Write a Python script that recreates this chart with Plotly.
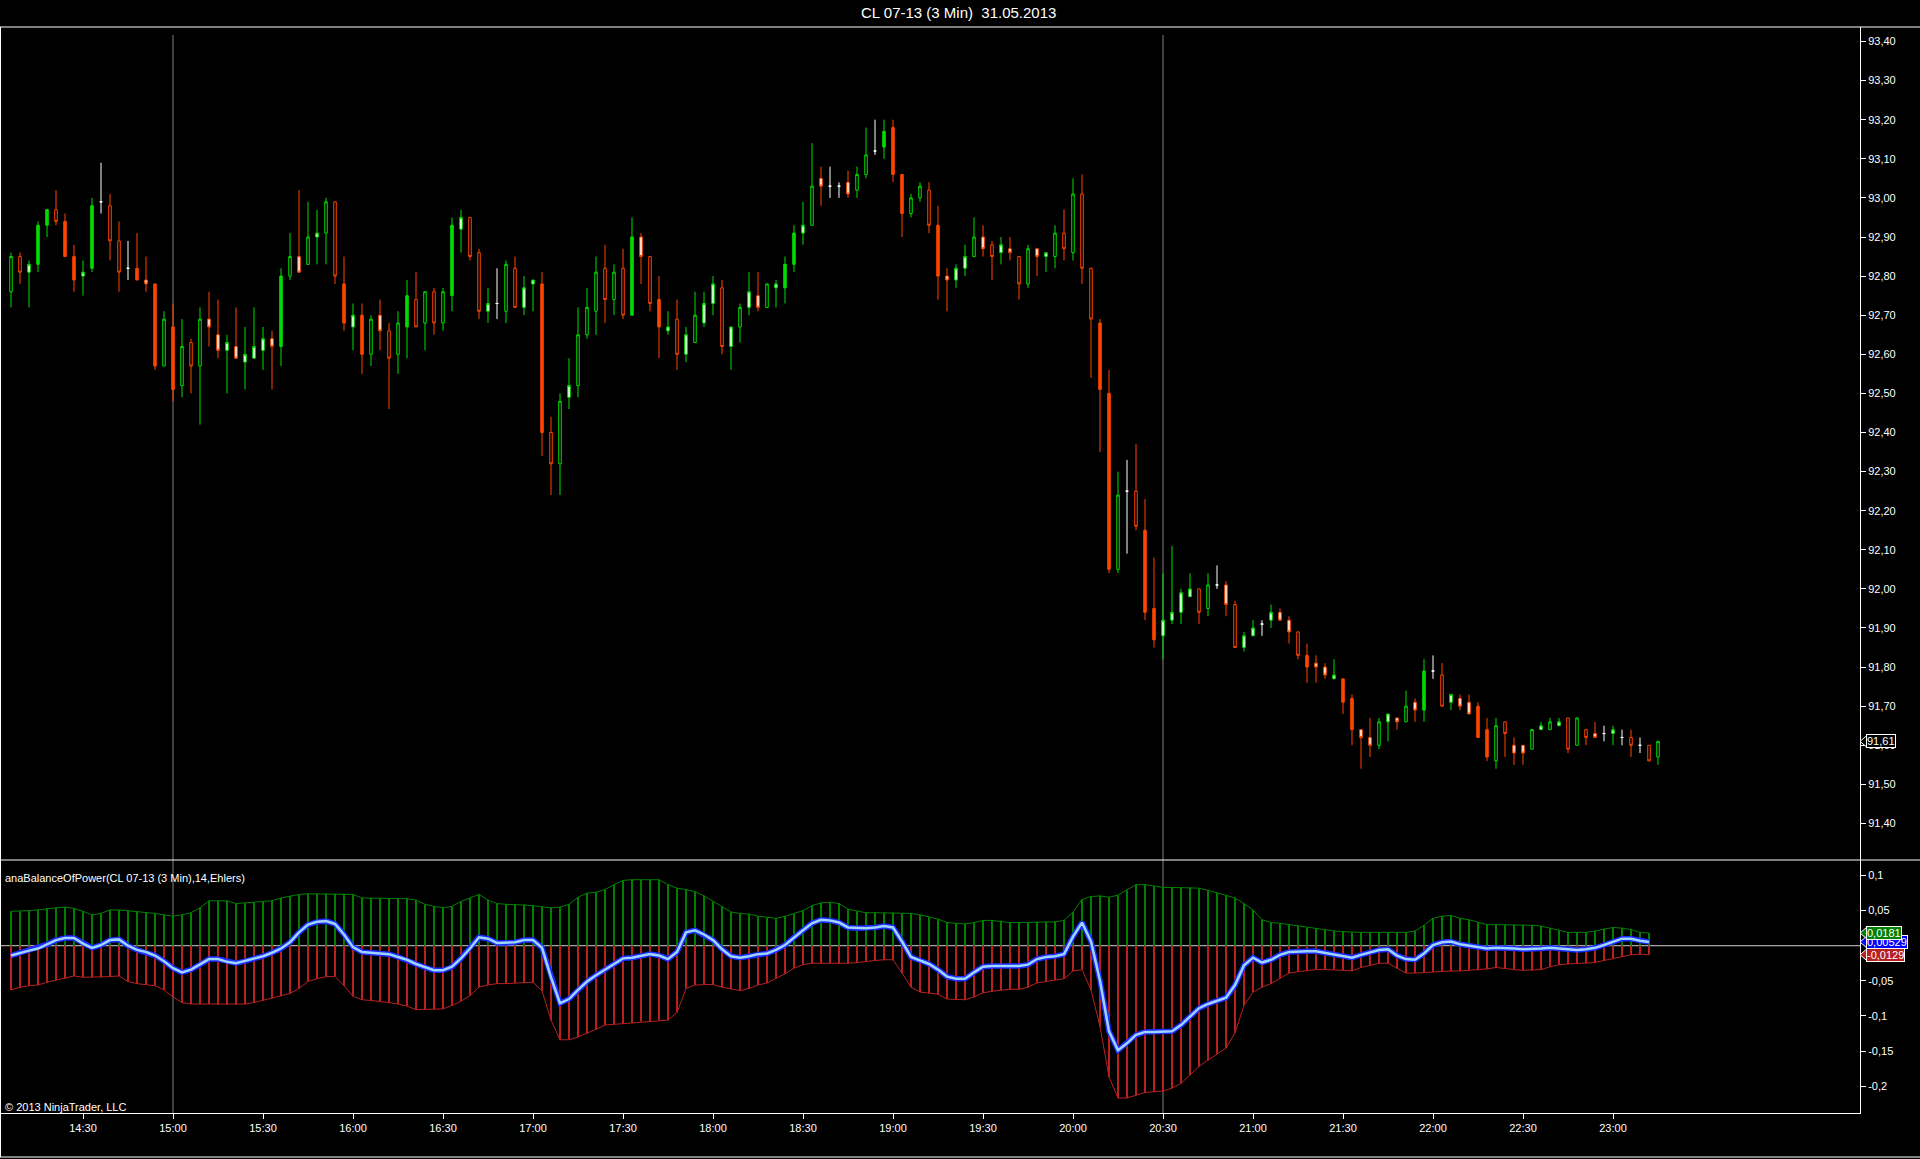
import pandas as pd
import plotly.graph_objects as go

W, H = 1920, 1159
FONT = "Liberation Sans, Arial, sans-serif"

GREEN = "#00dd00"      # up candles
ORANGE = "#ff4500"     # down candles
BAND_UP = "#008000"
BAND_DN = "#b82020"

# === CL 07-13, 3 minute bars, 31.05.2013 (first bar 14:06) ===
first_bar = "2013-05-31 14:06"

opens = [
    92.76, 92.85, 92.81, 92.83, 92.93, 92.97, 92.94, 92.85,
    92.80, 92.82, 92.99, 92.98, 92.89, 92.82, 92.82, 92.79, 92.78, 92.57,
    92.67, 92.52, 92.63, 92.57, 92.69, 92.65, 92.61, 92.62, 92.58, 92.59,
    92.61, 92.64, 92.62, 92.80, 92.85, 92.83, 92.90, 92.91, 92.99, 92.78,
    92.67, 92.70, 92.60, 92.70, 92.66, 92.60, 92.67, 92.74, 92.68, 92.76,
    92.68, 92.75, 92.92, 92.95, 92.86, 92.71, 92.73, 92.71, 92.82, 92.72,
    92.78, 92.78, 92.40, 92.32, 92.49, 92.52, 92.65, 92.71, 92.82, 92.74,
    92.82, 92.70, 92.90, 92.85, 92.74, 92.66, 92.69, 92.60, 92.63, 92.68,
    92.73, 92.77, 92.62, 92.67, 92.72, 92.75, 92.72, 92.77, 92.77, 92.83,
    92.91, 92.93, 93.05, 93.03, 93.03, 93.04, 93.02, 93.06, 93.12, 93.13,
    93.18, 93.06, 92.96, 93.00, 93.02, 92.93, 92.80, 92.79, 92.82, 92.85,
    92.90, 92.88, 92.86, 92.87, 92.85, 92.78, 92.87, 92.85, 92.85, 92.91,
    92.86, 93.01, 92.82, 92.68, 92.50, 92.05, 92.25, 92.25, 92.15, 91.95,
    91.88, 91.92, 91.94, 91.98, 92.00, 91.95, 92.01, 92.01, 91.96, 91.85,
    91.88, 91.91, 91.92, 91.94, 91.92, 91.89, 91.83, 91.81, 91.80, 91.77,
    91.77, 91.72, 91.64, 91.62, 91.60, 91.66, 91.67, 91.66, 91.71, 91.69,
    91.79, 91.78, 91.71, 91.72, 91.71, 91.70, 91.64, 91.56, 91.66, 91.60,
    91.60, 91.59, 91.64, 91.64, 91.65, 91.67, 91.60, 91.64, 91.63, 91.63,
    91.63, 91.62, 91.62, 91.60, 91.60, 91.57,
]
highs = [
    92.86, 92.86, 92.84, 92.94, 92.97, 93.02, 92.96, 92.88,
    92.84, 93.00, 93.09, 93.01, 92.94, 92.89, 92.91, 92.85, 92.78, 92.71,
    92.73, 92.69, 92.64, 92.72, 92.76, 92.74, 92.65, 92.72, 92.67, 92.72,
    92.67, 92.66, 92.82, 92.91, 93.02, 92.99, 92.97, 93.00, 92.99, 92.85,
    92.73, 92.73, 92.70, 92.74, 92.68, 92.71, 92.79, 92.81, 92.76, 92.77,
    92.77, 92.95, 92.97, 92.95, 92.87, 92.77, 92.82, 92.84, 92.85, 92.80,
    92.79, 92.81, 92.44, 92.50, 92.59, 92.72, 92.77, 92.85, 92.88, 92.83,
    92.87, 92.95, 92.91, 92.85, 92.80, 92.71, 92.74, 92.67, 92.76, 92.76,
    92.80, 92.79, 92.67, 92.73, 92.81, 92.81, 92.78, 92.79, 92.85, 92.93,
    92.99, 93.14, 93.08, 93.08, 93.04, 93.07, 93.08, 93.18, 93.20, 93.20,
    93.20, 93.06, 93.01, 93.04, 93.04, 92.98, 92.82, 92.83, 92.88, 92.95,
    92.93, 92.89, 92.90, 92.90, 92.85, 92.88, 92.87, 92.86, 92.93, 92.97,
    93.05, 93.06, 92.82, 92.69, 92.56, 92.30, 92.33, 92.37, 92.23, 92.08,
    92.04, 92.11, 92.00, 92.04, 92.00, 92.04, 92.06, 92.02, 91.97, 91.89,
    91.92, 91.92, 91.96, 91.95, 91.93, 91.89, 91.86, 91.83, 91.81, 91.82,
    91.77, 91.73, 91.64, 91.67, 91.67, 91.68, 91.67, 91.74, 91.72, 91.82,
    91.83, 91.81, 91.73, 91.73, 91.73, 91.71, 91.67, 91.67, 91.66, 91.62,
    91.60, 91.64, 91.66, 91.67, 91.67, 91.67, 91.67, 91.64, 91.66, 91.65,
    91.65, 91.64, 91.64, 91.62, 91.60, 91.61,
]
lows = [
    92.72, 92.78, 92.72, 92.81, 92.90, 92.93, 92.85, 92.76,
    92.75, 92.81, 92.96, 92.84, 92.76, 92.79, 92.79, 92.76, 92.56, 92.57,
    92.48, 92.49, 92.50, 92.42, 92.62, 92.59, 92.50, 92.59, 92.51, 92.59,
    92.56, 92.51, 92.57, 92.79, 92.81, 92.83, 92.83, 92.83, 92.78, 92.66,
    92.61, 92.55, 92.57, 92.61, 92.46, 92.55, 92.59, 92.67, 92.61, 92.65,
    92.66, 92.71, 92.86, 92.84, 92.69, 92.68, 92.69, 92.68, 92.72, 92.70,
    92.71, 92.34, 92.24, 92.24, 92.46, 92.49, 92.64, 92.65, 92.68, 92.70,
    92.69, 92.70, 92.78, 92.71, 92.59, 92.65, 92.56, 92.58, 92.63, 92.67,
    92.70, 92.60, 92.56, 92.63, 92.70, 92.71, 92.72, 92.72, 92.73, 92.81,
    92.88, 92.93, 92.98, 93.00, 93.00, 93.00, 93.00, 93.05, 93.11, 93.10,
    93.04, 92.90, 92.95, 92.99, 92.91, 92.74, 92.71, 92.77, 92.80, 92.85,
    92.85, 92.79, 92.83, 92.84, 92.74, 92.77, 92.80, 92.81, 92.82, 92.84,
    92.84, 92.78, 92.54, 92.35, 92.04, 92.04, 92.09, 92.15, 91.92, 91.85,
    91.82, 91.91, 91.91, 91.98, 91.91, 91.93, 92.00, 91.93, 91.85, 91.84,
    91.88, 91.88, 91.90, 91.92, 91.86, 91.82, 91.76, 91.76, 91.77, 91.77,
    91.68, 91.60, 91.54, 91.57, 91.59, 91.61, 91.64, 91.66, 91.66, 91.66,
    91.77, 91.70, 91.69, 91.69, 91.68, 91.62, 91.56, 91.54, 91.57, 91.55,
    91.55, 91.59, 91.64, 91.64, 91.65, 91.58, 91.60, 91.60, 91.62, 91.61,
    91.60, 91.60, 91.57, 91.58, 91.56, 91.55,
]
closes = [
    92.85, 92.81, 92.83, 92.93, 92.97, 92.94, 92.85, 92.79,
    92.81, 92.98, 92.99, 92.89, 92.81, 92.82, 92.79, 92.78, 92.57, 92.69,
    92.51, 92.62, 92.57, 92.69, 92.67, 92.61, 92.63, 92.59, 92.60, 92.62,
    92.64, 92.62, 92.80, 92.85, 92.81, 92.90, 92.91, 92.99, 92.80, 92.68,
    92.70, 92.60, 92.69, 92.66, 92.59, 92.68, 92.75, 92.67, 92.76, 92.68,
    92.76, 92.93, 92.95, 92.85, 92.71, 92.73, 92.73, 92.83, 92.72, 92.77,
    92.79, 92.40, 92.32, 92.48, 92.52, 92.65, 92.72, 92.81, 92.74, 92.81,
    92.70, 92.90, 92.85, 92.73, 92.67, 92.67, 92.60, 92.65, 92.70, 92.73,
    92.78, 92.62, 92.67, 92.72, 92.76, 92.72, 92.78, 92.78, 92.83, 92.91,
    92.93, 93.03, 93.03, 93.03, 93.03, 93.01, 93.06, 93.11, 93.12, 93.17,
    93.06, 92.96, 93.00, 93.03, 92.93, 92.80, 92.79, 92.82, 92.85, 92.90,
    92.87, 92.85, 92.88, 92.86, 92.78, 92.87, 92.85, 92.86, 92.91, 92.87,
    93.01, 92.82, 92.69, 92.51, 92.05, 92.24, 92.25, 92.16, 91.94, 91.87,
    91.92, 91.94, 91.99, 92.00, 91.94, 92.01, 92.01, 91.96, 91.85, 91.88,
    91.90, 91.91, 91.94, 91.92, 91.89, 91.83, 91.80, 91.80, 91.78, 91.78,
    91.71, 91.64, 91.62, 91.60, 91.66, 91.68, 91.66, 91.70, 91.69, 91.79,
    91.79, 91.70, 91.73, 91.70, 91.68, 91.62, 91.57, 91.65, 91.63, 91.58,
    91.58, 91.64, 91.65, 91.66, 91.66, 91.59, 91.67, 91.62, 91.62, 91.63,
    91.64, 91.62, 91.60, 91.60, 91.56, 91.61,
]
# body look of each candle as seen on the chart: F solid, H hollow, W light core, D doji
body_kind = """
H H W F F H F F
W F D H H D F W F H
F H H H W W W W W W
W W F H W H W H H F
W F H W H H F H H H
H F W H H W D H H W
W F H H W H H H H H
H F W H F W H W H W
W H W H W W H W F F
W H W D D W H H D F
F F H H H F W W W H
W H W W H H W W H H
H H H F F H D H F F
W W W W H H D W H W
W D W W W H F W W W
F F W W H W W H W F
D H W W W F F H H W
W H W H W H H H W D
W D H D H H
""".split()

# === anaBalanceOfPower(14, Ehlers): upper band, lower band, BOP line (last bar not closed) ===
bop_upper = [
    0.049, 0.049, 0.050, 0.051, 0.053, 0.054, 0.055, 0.053,
    0.049, 0.044, 0.046, 0.051, 0.051, 0.050, 0.049, 0.048, 0.046, 0.044,
    0.042, 0.044, 0.047, 0.054, 0.064, 0.064, 0.064, 0.060, 0.061, 0.062,
    0.063, 0.064, 0.068, 0.071, 0.073, 0.074, 0.074, 0.074, 0.074, 0.074,
    0.073, 0.068, 0.068, 0.068, 0.068, 0.068, 0.067, 0.065, 0.059, 0.056,
    0.054, 0.056, 0.063, 0.068, 0.073, 0.065, 0.060, 0.059, 0.059, 0.058,
    0.057, 0.055, 0.054, 0.055, 0.059, 0.069, 0.075, 0.076, 0.080, 0.087,
    0.093, 0.094, 0.094, 0.094, 0.094, 0.087, 0.082, 0.080, 0.077, 0.071,
    0.063, 0.056, 0.048, 0.046, 0.045, 0.042, 0.040, 0.039, 0.042, 0.046,
    0.050, 0.057, 0.061, 0.062, 0.060, 0.052, 0.049, 0.047, 0.047, 0.047,
    0.047, 0.046, 0.046, 0.044, 0.041, 0.038, 0.033, 0.032, 0.031, 0.033,
    0.036, 0.036, 0.034, 0.033, 0.033, 0.033, 0.034, 0.034, 0.034, 0.036,
    0.048, 0.066, 0.070, 0.071, 0.069, 0.072, 0.079, 0.087, 0.087, 0.085,
    0.083, 0.083, 0.083, 0.083, 0.082, 0.079, 0.075, 0.072, 0.068, 0.060,
    0.051, 0.037, 0.033, 0.032, 0.030, 0.028, 0.026, 0.025, 0.023, 0.021,
    0.020, 0.019, 0.019, 0.019, 0.019, 0.019, 0.019, 0.019, 0.021, 0.029,
    0.039, 0.042, 0.043, 0.039, 0.037, 0.033, 0.030, 0.030, 0.030, 0.030,
    0.030, 0.029, 0.028, 0.025, 0.022, 0.019, 0.019, 0.019, 0.021, 0.024,
    0.026, 0.025, 0.023, 0.019, 0.0181,
]
bop_lower = [
    -0.063, -0.059, -0.057, -0.056, -0.052, -0.049, -0.047, -0.043,
    -0.045, -0.045, -0.045, -0.044, -0.043, -0.051, -0.054, -0.056, -0.057, -0.063,
    -0.073, -0.081, -0.083, -0.083, -0.083, -0.084, -0.084, -0.084, -0.083, -0.081,
    -0.078, -0.075, -0.072, -0.068, -0.061, -0.051, -0.047, -0.044, -0.044, -0.057,
    -0.072, -0.077, -0.078, -0.079, -0.081, -0.083, -0.086, -0.091, -0.091, -0.091,
    -0.090, -0.085, -0.079, -0.071, -0.059, -0.056, -0.054, -0.054, -0.053, -0.053,
    -0.052, -0.064, -0.106, -0.134, -0.134, -0.130, -0.125, -0.119, -0.113, -0.112,
    -0.111, -0.110, -0.108, -0.108, -0.106, -0.106, -0.095, -0.061, -0.056, -0.055,
    -0.055, -0.059, -0.062, -0.064, -0.061, -0.056, -0.053, -0.047, -0.040, -0.032,
    -0.027, -0.025, -0.025, -0.025, -0.026, -0.025, -0.024, -0.022, -0.021, -0.020,
    -0.020, -0.039, -0.059, -0.066, -0.068, -0.069, -0.076, -0.077, -0.077, -0.073,
    -0.067, -0.065, -0.063, -0.062, -0.062, -0.059, -0.053, -0.051, -0.049, -0.047,
    -0.036, -0.034, -0.063, -0.115, -0.187, -0.217, -0.217, -0.213, -0.209, -0.208,
    -0.207, -0.203, -0.196, -0.184, -0.172, -0.163, -0.154, -0.146, -0.124, -0.085,
    -0.066, -0.059, -0.054, -0.046, -0.039, -0.037, -0.035, -0.034, -0.034, -0.034,
    -0.035, -0.036, -0.031, -0.028, -0.025, -0.025, -0.032, -0.039, -0.039, -0.038,
    -0.037, -0.036, -0.036, -0.036, -0.035, -0.035, -0.033, -0.031, -0.033, -0.034,
    -0.035, -0.035, -0.034, -0.030, -0.027, -0.026, -0.025, -0.025, -0.024, -0.021,
    -0.018, -0.016, -0.013, -0.012, -0.0129,
]
bop_line = [
    -0.014, -0.010, -0.007, -0.004, 0.002, 0.008, 0.011, 0.011,
    0.003, -0.003, 0.001, 0.008, 0.009, 0.000, -0.006, -0.009, -0.014, -0.022,
    -0.032, -0.038, -0.034, -0.027, -0.019, -0.019, -0.023, -0.025, -0.022, -0.019,
    -0.015, -0.010, -0.004, 0.005, 0.019, 0.030, 0.034, 0.035, 0.031, 0.016,
    -0.002, -0.009, -0.010, -0.011, -0.012, -0.016, -0.020, -0.026, -0.031, -0.035,
    -0.035, -0.030, -0.018, -0.004, 0.012, 0.010, 0.004, 0.004, 0.005, 0.008,
    0.008, -0.003, -0.045, -0.082, -0.076, -0.063, -0.051, -0.042, -0.034, -0.025,
    -0.018, -0.017, -0.014, -0.012, -0.014, -0.019, -0.009, 0.019, 0.022, 0.016,
    0.008, -0.005, -0.015, -0.017, -0.015, -0.012, -0.011, -0.006, 0.001, 0.012,
    0.022, 0.032, 0.037, 0.036, 0.033, 0.026, 0.025, 0.025, 0.026, 0.028,
    0.026, 0.006, -0.016, -0.021, -0.026, -0.034, -0.044, -0.047, -0.047, -0.038,
    -0.030, -0.029, -0.029, -0.029, -0.029, -0.027, -0.019, -0.016, -0.015, -0.012,
    0.013, 0.033, 0.006, -0.050, -0.122, -0.149, -0.139, -0.127, -0.123, -0.123,
    -0.123, -0.122, -0.113, -0.101, -0.089, -0.083, -0.079, -0.074, -0.056, -0.028,
    -0.017, -0.024, -0.020, -0.013, -0.009, -0.008, -0.008, -0.008, -0.010, -0.012,
    -0.015, -0.017, -0.013, -0.009, -0.006, -0.005, -0.014, -0.019, -0.020, -0.011,
    0.001, 0.005, 0.006, 0.002, 0.000, -0.002, -0.004, -0.003, -0.003, -0.004,
    -0.005, -0.005, -0.004, -0.003, -0.004, -0.006, -0.006, -0.005, -0.003, 0.001,
    0.006, 0.010, 0.010, 0.007, 0.00529,
]

# axes
time_labels = ["14:30", "15:00", "15:30", "16:00", "16:30", "17:00", "17:30", "18:00", "18:30",
               "19:00", "19:30", "20:00", "20:30", "21:00", "21:30", "22:00", "22:30", "23:00"]
price_ticks = [91.4, 91.5, 91.6, 91.7, 91.8, 91.9, 92.0, 92.1, 92.2, 92.3, 92.4,
               92.5, 92.6, 92.7, 92.8, 92.9, 93.0, 93.1, 93.2, 93.3, 93.4]
bop_ticks = [0.1, 0.05, -0.05, -0.1, -0.15, -0.2]
bop_tick_labels = ["0,1", "0,05", "-0,05", "-0,1", "-0,15", "-0,2"]
session_lines = ["15:00", "20:30"]
x_range = ["2013-05-31 14:02:40", "2013-06-01 00:22:20"]
price_range = [91.3066, 93.4371]
bop_range = [-0.2383, 0.1221]


def px_x(x):
    return x / W


def px_y(y):
    return 1 - y / H


def comma(v, fmt):
    return format(v, fmt).replace(".", ",")


times = pd.date_range(first_bar, periods=len(opens), freq="3min")
df = pd.DataFrame({"t": times, "o": opens, "h": highs, "l": lows, "c": closes, "kind": body_kind})
day = times[0].strftime("%Y-%m-%d")

fig = go.Figure()

# --- candles: one trace per colour / body look ---
for direction, colour in [(df.c > df.o, GREEN), (df.c < df.o, ORANGE)]:
    for kind, fill in [("F", colour), ("H", "black"), ("W", "white")]:
        sel = df[direction & (df.kind == kind)]
        if sel.empty:
            continue
        style = dict(line=dict(color=colour, width=1), fillcolor=fill)
        fig.add_trace(go.Candlestick(x=sel.t, open=sel.o, high=sel.h, low=sel.l, close=sel.c,
                                     increasing=style, decreasing=style, hoverinfo="skip",
                                     showlegend=False, xaxis="x", yaxis="y"))
doji = df[df.c == df.o]
white = dict(line=dict(color="white", width=1), fillcolor="white")
fig.add_trace(go.Candlestick(x=doji.t, open=doji.o, high=doji.h, low=doji.l, close=doji.c,
                             increasing=white, decreasing=white, hoverinfo="skip",
                             showlegend=False, xaxis="x", yaxis="y"))

# --- indicator panel ---
t_ind = times[:len(bop_line)]
for vals, colour in [(bop_upper, BAND_UP), (bop_lower, BAND_DN)]:
    fig.add_trace(go.Bar(x=t_ind, y=vals, width=22000, marker=dict(color=colour, line=dict(width=0)),
                         hoverinfo="skip", showlegend=False, xaxis="x2", yaxis="y2"))
    fig.add_trace(go.Scatter(x=t_ind, y=vals, mode="lines", line=dict(color=colour, width=1),
                             hoverinfo="skip", showlegend=False, xaxis="x2", yaxis="y2"))
fig.add_trace(go.Scatter(x=t_ind, y=bop_line, mode="lines", line=dict(color="#1a2cff", width=5.5),
                         hoverinfo="skip", showlegend=False, xaxis="x2", yaxis="y2"))
fig.add_trace(go.Scatter(x=t_ind, y=bop_line, mode="lines", line=dict(color="#9fd4ff", width=2.5),
                         hoverinfo="skip", showlegend=False, xaxis="x2", yaxis="y2"))

x_domain = [px_x(1), px_x(1860)]
axis_common = dict(showgrid=False, zeroline=False, color="white", tickcolor="white",
                   tickfont=dict(family=FONT, size=11, color="white"))

fig.update_layout(
    width=W, height=H, margin=dict(l=0, r=0, t=0, b=0),
    paper_bgcolor="black", plot_bgcolor="black", showlegend=False,
    separators=",.", boxgap=0.72, boxgroupgap=0, barmode="overlay", hovermode=False,
    font=dict(family=FONT, size=11, color="white"),
    xaxis=dict(domain=x_domain, anchor="y", type="date", range=x_range, showticklabels=False,
               ticks="", rangeslider=dict(visible=False), **axis_common),
    xaxis2=dict(domain=x_domain, anchor="y2", type="date", range=x_range,
                tickvals=[f"{day} {t}" for t in time_labels], ticktext=time_labels,
                ticks="outside", ticklen=5, showline=True, linecolor="white", linewidth=1,
                **axis_common),
    yaxis=dict(domain=[px_y(860), px_y(27)], anchor="x", side="right", range=price_range,
               tickvals=price_ticks, ticktext=[comma(v, ".2f") for v in price_ticks],
               ticks="outside", ticklen=5, showline=True, linecolor="white", linewidth=1,
               **axis_common),
    yaxis2=dict(domain=[px_y(1113), px_y(860)], anchor="x2", side="right", range=bop_range,
                tickvals=bop_ticks, ticktext=bop_tick_labels,
                ticks="outside", ticklen=5, showline=True, linecolor="white", linewidth=1,
                **axis_common),
)

# --- frame lines ---
frame = dict(type="line", xref="paper", yref="paper", line=dict(color="white", width=1))
for y in (27, 860, 1157):
    fig.add_shape(x0=0, x1=1, y0=px_y(y), y1=px_y(y), **frame)
fig.add_shape(x0=px_x(0.5), x1=px_x(0.5), y0=px_y(27), y1=px_y(1157), **frame)

# session break lines through both panels
for t in session_lines:
    fig.add_shape(type="line", xref="x", yref="paper", x0=f"{day} {t}", x1=f"{day} {t}",
                  y0=px_y(1113), y1=px_y(35), line=dict(color="#808080", width=1), layer="below")

# zero line of the indicator
fig.add_shape(type="line", xref="x2 domain", yref="y2", x0=0, x1=1, y0=0, y1=0,
              line=dict(color="#d0d0d0", width=1), layer="below")

# --- texts ---
fig.add_annotation(text="CL 07-13 (3 Min)\u00a0 31.05.2013", xref="paper", yref="paper",
                   x=px_x(958), y=px_y(13), showarrow=False, xanchor="center", yanchor="middle",
                   font=dict(family=FONT, size=15, color="white"))
fig.add_annotation(text="anaBalanceOfPower(CL 07-13 (3 Min),14,Ehlers)", xref="paper", yref="paper",
                   x=px_x(3), y=px_y(878), showarrow=False, xanchor="left", yanchor="middle",
                   font=dict(family=FONT, size=11, color="white"))
fig.add_annotation(text="© 2013 NinjaTrader, LLC", xref="paper", yref="paper",
                   x=px_x(3), y=px_y(1107), showarrow=False, xanchor="left", yanchor="middle",
                   font=dict(family=FONT, size=11, color="white"))


# --- last value markers on the right axis ---
def value_tag(value, text, yref, bg, unit_per_px):
    dy = 6 * unit_per_px
    fig.add_shape(type="path", xref="paper", yref=yref,
                  path=f"M {px_x(1860)},{value} L {px_x(1867)},{value + dy} "
                       f"L {px_x(1867)},{value - dy} Z",
                  fillcolor=bg, line=dict(color="white", width=1))
    fig.add_annotation(text=text, xref="paper", yref=yref, x=px_x(1866), y=value,
                       showarrow=False, xanchor="left", yanchor="middle", bgcolor=bg,
                       bordercolor="white", borderwidth=1, borderpad=0,
                       font=dict(family=FONT, size=11, color="white"))


price_unit = (price_range[1] - price_range[0]) / (860 - 27)
bop_unit = (bop_range[1] - bop_range[0]) / (1113 - 860)
value_tag(closes[-1], comma(closes[-1], ".2f"), "y", "black", price_unit)
value_tag(bop_line[-1], comma(bop_line[-1], ".3g"), "y2", "#0000ff", bop_unit)
value_tag(bop_upper[-1], comma(bop_upper[-1], ".3g"), "y2", BAND_UP, bop_unit)
value_tag(bop_lower[-1], comma(bop_lower[-1], ".3g"), "y2", BAND_DN, bop_unit)

fig.write_html("out.html", config={"displayModeBar": False},
               post_script="document.body.style.margin='0';document.body.style.overflow='hidden';"
                           "document.body.style.background='black';")
